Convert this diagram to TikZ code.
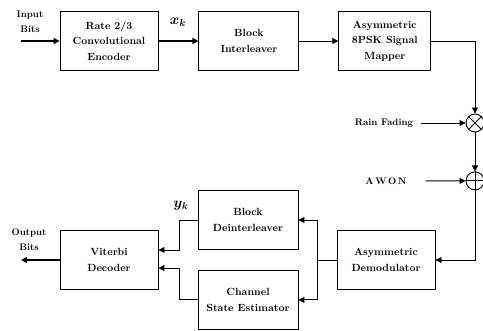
\documentclass[tikz,border=0pt]{standalone}
\usepackage{amsmath, amssymb}
\usepackage{tikz}
\usetikzlibrary{arrows.meta, positioning, calc}

\begin{document}
\begin{tikzpicture}[
  x=1pt, y=1pt,
  box/.style={draw, line width=0.9pt, align=center, font=\fontsize{10.4}{15.5}\selectfont\bfseries,
              minimum width=98pt, minimum height=59pt, inner sep=2pt},
  lbl/.style={align=center, font=\fontsize{9.5}{15}\selectfont\bfseries, inner sep=1pt},
  mix/.style={draw, line width=0.9pt, circle, minimum size=18pt, inner sep=0pt},
  arr/.style={-{Triangle[length=6pt, width=6pt]}, line width=0.9pt},
  bigarr/.style={arr, line width=1.6pt}]
\useasboundingbox (0,0) rectangle (483,-331);
% top row
\node[box] (enc) at (109,-41) {Rate 2/3\\ Convolutional\\ Encoder};
\node[box, minimum width=100pt, right=40pt of enc] (intl) {Block\\ Interleaver};
\node[box, minimum width=92pt, right=39pt of intl] (mapper) {Asymmetric\\ 8PSK Signal\\ Mapper};
\node[lbl] (inbits) at (30,-22) {Input\\ Bits};
\coordinate (instart) at (21,-41);
\node[font=\Large] (xk) at (178,-22) {$\boldsymbol{x_k}$};
% channel
\node[mix] (mult) at (475,-123) {};
\node[mix, below=39pt of mult] (add) {};
\draw[line width=0.9pt] (mult.north west) -- (mult.south east) (mult.north east) -- (mult.south west);
\draw[line width=0.9pt] (add.north) -- (add.south) (add.west) -- (add.east);
\node[lbl] (rain) at (384,-123) {Rain Fading};
\node[lbl] (awgn) at (386,-181) {A\,W\,O\,N};
% bottom row
\node[box] (demod) at (386,-260) {Asymmetric\\ Demodulator};
\node[box, minimum width=100pt] (deint) at (248,-220) {Block\\ Deinterleaver};
\node[box, minimum width=100pt, below=20pt of deint] (cse) {Channel\\ State Estimator};
\node[box] (vit) at (109,-260) {Viterbi\\ Decoder};
\node[lbl] (outbits) at (29,-240) {Output\\ Bits};
\coordinate (outend) at (21,-260);
\node[font=\Large] (yk) at (181,-206) {$\boldsymbol{y_k}$};
\coordinate (split) at (317,-260);
\draw[bigarr] (instart) -- (enc);
\draw[bigarr] (enc) -- (intl);
\draw[arr] (intl) -- (mapper);
\draw[arr] (mapper.east) -| (mult.north);
\draw[arr, shorten <=7pt] (rain) -- (mult.west);
\draw[arr] (mult) -- (add);
\draw[arr, shorten <=18pt] (awgn) -- (add.west);
\draw[arr] (add.south) |- (demod.east);
\draw[line width=0.9pt] (demod.west) -- (split);
\draw[arr] (split) |- (deint.east);
\draw[arr] (split) |- (cse.east);
\draw[arr] (deint.west) -- ++(-18,0) |- ($(vit.east)+(0,10)$);
\draw[arr] (cse.west) -- ++(-18,0) |- ($(vit.east)+(0,-8)$);
\draw[bigarr] (vit) -- (outend);
\end{tikzpicture}
\end{document}
